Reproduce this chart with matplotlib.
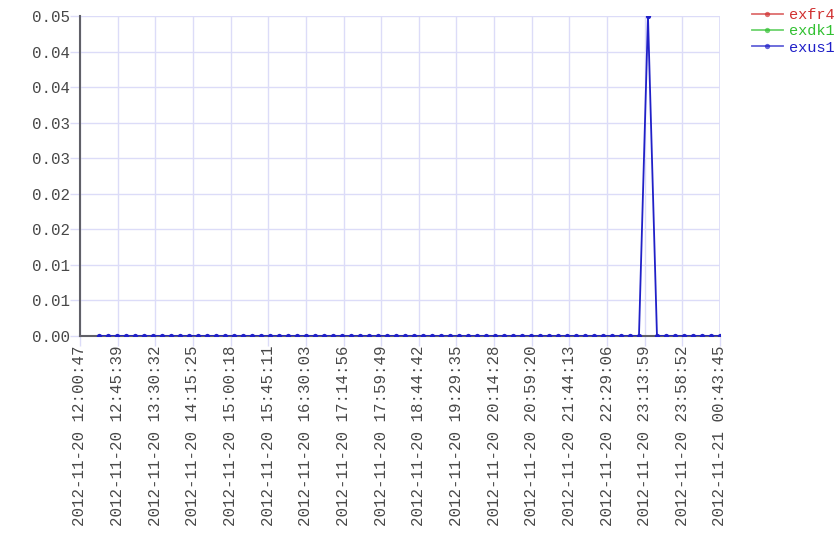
import matplotlib
matplotlib.use('Agg')
import matplotlib.pyplot as plt
import matplotlib.dates as mdates
import numpy as np
import pandas as pd

# ---- data ----
series_names = ['exfr4', 'exdk1', 'exus1']
series_colors = ['#d03030', '#30c030', '#2020c8']

first_time = '2012-11-20 12:23:09'
n_points = 70
step_seconds = 644
times = pd.date_range(first_time, periods=n_points, freq=f'{step_seconds}s')

exus1 = [0.0, 0.0, 0.0, 0.0, 0.0, 0.0, 0.0, 0.0, 0.0, 0.0,
         0.0, 0.0, 0.0, 0.0, 0.0, 0.0, 0.0, 0.0, 0.0, 0.0,
         0.0, 0.0, 0.0, 0.0, 0.0, 0.0, 0.0, 0.0, 0.0, 0.0,
         0.0, 0.0, 0.0, 0.0, 0.0, 0.0, 0.0, 0.0, 0.0, 0.0,
         0.0, 0.0, 0.0, 0.0, 0.0, 0.0, 0.0, 0.0, 0.0, 0.0,
         0.0, 0.0, 0.0, 0.0, 0.0, 0.0, 0.0, 0.0, 0.0, 0.0,
         0.0, 0.05, 0.0, 0.0, 0.0, 0.0, 0.0, 0.0, 0.0, 0.0]
# exfr4 and exdk1 have no visible points in the chart (hidden under exus1)
exfr4 = []
exdk1 = []
series_values = [exfr4, exdk1, exus1]

x_start = '2012-11-20 12:00:47'
x_end = '2012-11-21 00:43:45'
y_max = 0.05
y_tick_labels = ['0.00', '0.01', '0.01', '0.02', '0.02',
                 '0.03', '0.03', '0.04', '0.04', '0.05']

# ---- plot ----
plt.rcParams['font.family'] = ['Liberation Mono', 'DejaVu Sans Mono']
grid_color = '#dcdcf8'
text_color = '#484848'

fig = plt.figure(figsize=(8.4, 5.6), dpi=100)
ax = fig.add_axes([80 / 840, 1 - 336 / 560, 640 / 840, 320 / 560])

for name, vals, col in zip(series_names, series_values, series_colors):
    ax.plot(times[:len(vals)], vals, color=col, lw=1.3, marker='o', ms=3.8,
            markeredgewidth=0, label=name, zorder=3)

xmin = mdates.date2num(pd.Timestamp(x_start))
xmax = mdates.date2num(pd.Timestamp(x_end))
ax.set_xlim(xmin, xmax)
ax.set_ylim(0, y_max)

ax.set_xticks(np.linspace(xmin, xmax, 18))
ax.xaxis.set_major_formatter(mdates.DateFormatter('%Y-%m-%d %H:%M:%S'))
ax.set_yticks(np.linspace(0, y_max, len(y_tick_labels)))
ax.set_yticklabels(y_tick_labels)

ax.grid(True, color=grid_color, lw=1, zorder=0)
ax.set_axisbelow(True)
for s in ['top', 'right']:
    ax.spines[s].set_visible(False)
for s in ['left', 'bottom']:
    ax.spines[s].set_color('#606068')
    ax.spines[s].set_linewidth(1.5)
    ax.spines[s].set_zorder(2.5)

ax.tick_params(axis='both', colors=grid_color, labelcolor=text_color,
               length=7, width=1, labelsize=11.3)
ax.tick_params(axis='x', labelrotation=90, pad=0)
ax.tick_params(axis='y', pad=0)

# top and right border lines like the grid
ax.axhline(y_max, color=grid_color, lw=1.2, zorder=0)
ax.axvline(xmax, color=grid_color, lw=1.2, zorder=0)

leg = fig.legend(loc='upper left', bbox_to_anchor=(752 / 840, 1 - 8 / 560),
                 frameon=False, fontsize=11, handlelength=2.0,
                 handletextpad=0.4, labelspacing=0.15, borderpad=0,
                 borderaxespad=0, labelcolor='linecolor')
for h in leg.legend_handles:
    h.set_alpha(0.7)

fig.savefig('out.png', dpi=100)
